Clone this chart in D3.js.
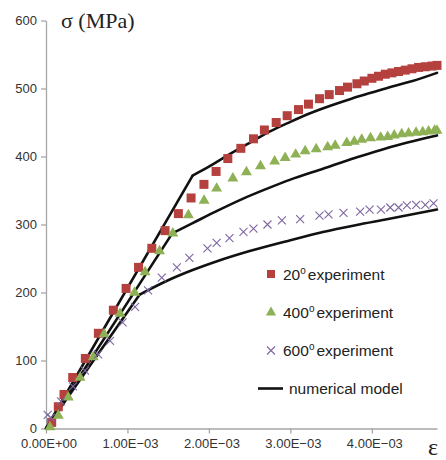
<!DOCTYPE html>
<html><head><meta charset="utf-8">
<script src="https://cdn.jsdelivr.net/npm/d3@7"></script>
<style>body{margin:0;background:#fff} svg{display:block}</style>
</head><body><svg id="c" width="446" height="460"></svg>
<script>
// strain values are in units of 1e-3
const exp20Strain = [0.070,0.151,0.221,0.328,0.483,0.643,0.827,0.983,1.136,1.299,1.462,1.625,1.781,1.939,2.088,2.232,2.392,2.547,2.681,2.826,2.961,3.100,3.222,3.358,3.477,3.603,3.701,3.817,3.907,4.001,4.082,4.165,4.247,4.328,4.410,4.493,4.574,4.656,4.738,4.800];
const exp20Stress = [9,32,50,75,103,140,174,206,237,265,291,316,339,359,378,397,412,426,439,450,460,469,477,485,491,497,502,507,511,515,518,521,523,525,527,529,531,532,533,534];

const exp400Strain = [0.049,0.151,0.274,0.418,0.581,0.713,0.909,1.087,1.216,1.394,1.557,1.748,1.941,2.095,2.294,2.461,2.633,2.807,2.936,3.065,3.182,3.317,3.458,3.550,3.692,3.784,3.876,3.984,4.109,4.195,4.275,4.367,4.451,4.543,4.625,4.697,4.770,4.800];
const exp400Stress = [2,19,46,75,105,139,169,200,230,261,287,314,335,353,368,377,386,393,398,403,408,411,414,416,420,422,425,427,428,429,431,433,434,435,436,437,438,438];

const exp600Strain = [0.020,0.060,0.184,0.332,0.479,0.639,0.786,0.940,1.093,1.253,1.421,1.606,1.760,1.982,2.095,2.252,2.424,2.547,2.719,2.896,3.120,3.357,3.468,3.652,3.857,3.972,4.112,4.226,4.328,4.431,4.545,4.656,4.758];
const exp600Stress = [20,16,40,62,85,109,129,156,179,203,222,237,251,265,273,280,289,294,300,306,308,313,315,317,319,322,322,325,325,328,329,329,331];

// numerical model: first point is origin, second is the yield corner, rest is the hardening curve
const model20Strain = [0,1.80,2.0,2.25,2.5,2.75,3.0,3.25,3.5,3.75,4.0,4.25,4.5,4.8];
const model20Stress = [0,372,385,403,420,437,451,464,475,485,494,503,511,523];
const model400Strain = [0,1.55,1.8,2.1,2.4,2.7,3.0,3.4,3.8,4.2,4.8];
const model400Stress = [0,287,302,320,337,352,366,382,398,413,431];
const model600Strain = [0,1.15,1.5,1.8,2.1,2.5,3.0,3.4,3.8,4.2,4.8];
const model600Stress = [0,197,218,233,246,261,277,289,299,308,322];

const xTickValues = [0,1,2,3,4];
const xTickLabels = ["0.00E+00","1.00E\u221203","2.00E\u221203","3.00E\u221203","4.00E\u221203"];
const yTickValues = [0,100,200,300,400,500,600];
const legendTemps = ["20","400","600"];
const legendSuffix = "experiment";
const modelLabel = "numerical model";
const yTitle = "\u03c3 (MPa)";
const xTitle = "\u03b5";

const colors = {c20:"#b5413e", c400:"#8db154", c600:"#7e66a0"};

const svg = d3.select("#c");
const x = d3.scaleLinear().domain([0,4.8]).range([46,437]);
const y = d3.scaleLinear().domain([0,600]).range([428.5,20.5]);
const axisColor = "#a6a6a6";
const font = "Arial, 'Liberation Sans', sans-serif";

// Y axis
const ya = svg.append("g").attr("transform","translate(46,0)")
  .call(d3.axisLeft(y).tickValues(yTickValues).tickSize(5).tickSizeOuter(0).tickPadding(4));
ya.select(".domain").attr("stroke",axisColor).attr("stroke-width",1.3);
ya.selectAll(".tick line").attr("stroke",axisColor).attr("stroke-width",1.3);
ya.selectAll(".tick text").attr("font-family",font).attr("font-size",13).attr("fill","#333");

// X axis
const xa = svg.append("g").attr("transform","translate(0,428.5)")
  .call(d3.axisBottom(x).tickValues(xTickValues).tickSize(5).tickSizeOuter(0).tickPadding(5)
    .tickFormat((d,i)=>xTickLabels[i]));
xa.select(".domain").attr("stroke",axisColor).attr("stroke-width",1.3);
xa.selectAll(".tick line").attr("stroke",axisColor).attr("stroke-width",1.3);
xa.selectAll(".tick text").attr("font-family",font).attr("font-size",13).attr("fill","#333").attr("dx",2.5);

// titles
svg.append("text").attr("x",61).attr("y",28).attr("font-family","'Liberation Serif','Times New Roman',serif")
  .attr("font-size",22).attr("fill","#222").text(yTitle);
svg.append("text").attr("x",433).attr("y",455).attr("text-anchor","middle").attr("font-family","'Liberation Serif','Times New Roman',serif")
  .attr("font-size",24).attr("fill","#222").text(xTitle);

// model lines: straight elastic segment + smooth hardening curve
const lineLin = d3.line().x(d=>x(d[0])).y(d=>y(d[1]));
const lineCurve = d3.line().x(d=>x(d[0])).y(d=>y(d[1])).curve(d3.curveMonotoneX);
[[model20Strain,model20Stress],[model400Strain,model400Stress],[model600Strain,model600Stress]].forEach(([xs,ys])=>{
  const pts = xs.map((v,i)=>[v,ys[i]]);
  const g = svg.append("g").attr("fill","none").attr("stroke","#111").attr("stroke-width",2.6)
    .attr("stroke-linejoin","round").attr("stroke-linecap","round");
  g.append("path").attr("d",lineLin(pts.slice(0,2)));
  g.append("path").attr("d",lineCurve(pts.slice(1)));
});

// markers
const sq = d3.symbol(d3.symbolSquare,81)();
const tri = d3.symbol(d3.symbolTriangle,52)();
const crossPath = "M-4,-4L4,4M-4,4L4,-4";

svg.append("g").selectAll("path").data(exp20Strain.map((v,i)=>[v,exp20Stress[i]])).join("path")
  .attr("d",sq).attr("transform",d=>`translate(${x(d[0])},${y(d[1])})`).attr("fill",colors.c20);
svg.append("g").selectAll("path").data(exp400Strain.map((v,i)=>[v,exp400Stress[i]])).join("path")
  .attr("d",tri).attr("transform",d=>`translate(${x(d[0])},${y(d[1])})`).attr("fill",colors.c400);
svg.append("g").selectAll("path").data(exp600Strain.map((v,i)=>[v,exp600Stress[i]])).join("path")
  .attr("d",crossPath).attr("transform",d=>`translate(${x(d[0])},${y(d[1])})`)
  .attr("fill","none").attr("stroke",colors.c600).attr("stroke-width",1.1);

// legend
const lg = svg.append("g").attr("font-family",font).attr("font-size",15.5).attr("fill","#222");
const rowsY = [274,312.5,350.5];
const mcolors = [colors.c20,colors.c400,colors.c600];
legendTemps.forEach((t,i)=>{
  if(i<2){
    lg.append("path").attr("d",d3.symbol(i==0?d3.symbolSquare:d3.symbolTriangle,i==0?64:45)())
      .attr("transform",`translate(271,${rowsY[i]})`).attr("fill",mcolors[i]);
  } else {
    lg.append("path").attr("d",crossPath).attr("transform",`translate(271,${rowsY[i]})`)
      .attr("stroke",mcolors[i]).attr("stroke-width",1.1).attr("fill","none");
  }
  const tx = lg.append("text").attr("x",283).attr("y",rowsY[i]+5.5);
  tx.append("tspan").text(t);
  tx.append("tspan").attr("font-size",10).attr("dy",-6).text("o");
  tx.append("tspan").attr("dy",6).attr("dx",2).text(legendSuffix);
});
lg.append("line").attr("x1",258).attr("x2",283).attr("y1",388.5).attr("y2",388.5).attr("stroke","#111").attr("stroke-width",2.6);
lg.append("text").attr("x",289).attr("y",394).text(modelLabel);
</script></body></html>
